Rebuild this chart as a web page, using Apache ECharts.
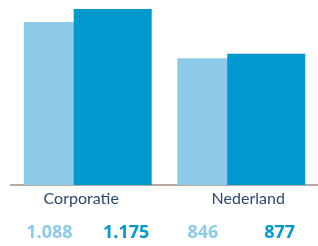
<!DOCTYPE html>
<html>
<head>
<meta charset="utf-8">
<script src="https://cdn.jsdelivr.net/npm/echarts@6/dist/echarts.min.js"></script>
<style>
  html, body { margin: 0; padding: 0; background: #fff; }
  #chart { width: 318px; height: 246px; }
</style>
</head>
<body>
<div id="chart"></div>
<script>
var categories = ["Corporatie", "Nederland"];
var vorigJaar = [1088, 846];
var ditJaar = [1175, 877];
var valueLabels = ["1.088", "1.175", "846", "877"];

var light = "#8dcbe8";
var dark = "#0099cf";

var chart = echarts.init(document.getElementById("chart"));
var option = {
  animation: false,
  grid: { left: 11, right: 0, top: 0, bottom: 61 },
  xAxis: [
    {
      type: "category",
      data: categories,
      axisLine: { lineStyle: { color: "#b5a89f", width: 2 } },
      axisTick: { show: false },
      axisLabel: {
        margin: 6,
        color: "#2c4770",
        fontFamily: "Lato",
        fontSize: 16,
        formatter: function (v, i) {
          return i === 0 ? "{a|" + v + "}" : "{b|" + v + "}";
        },
        rich: {
          a: { color: "#2c4770", fontFamily: "Lato", fontSize: 16, padding: [0, 13, 0, 0] },
          b: { color: "#2c4770", fontFamily: "Lato", fontSize: 16, padding: [0, 0, 0, 14] }
        }
      }
    },
    {
      type: "category",
      data: valueLabels,
      position: "bottom",
      offset: 35,
      axisLine: { show: false },
      axisTick: { show: false },
      axisLabel: {
        interval: 0,
        margin: 4,
        fontFamily: "Open Sans",
        fontWeight: "bold",
        fontSize: 18,
        formatter: function (v, i) {
          return i % 2 === 0 ? "{l|" + v + "}" : "{d|" + v + "}";
        },
        rich: {
          l: { color: light, fontFamily: "Open Sans", fontWeight: "bold", fontSize: 18 },
          d: { color: dark, fontFamily: "Open Sans", fontWeight: "bold", fontSize: 18 }
        }
      }
    }
  ],
  yAxis: { type: "value", min: 0, max: 1235, show: false },
  series: [
    {
      type: "bar",
      data: vorigJaar,
      barWidth: 78,
      barGap: "-36%",
      itemStyle: { color: light }
    },
    {
      type: "bar",
      data: ditJaar,
      barWidth: 78,
      itemStyle: { color: dark }
    }
  ]
};
chart.setOption(option);
</script>
</body>
</html>
